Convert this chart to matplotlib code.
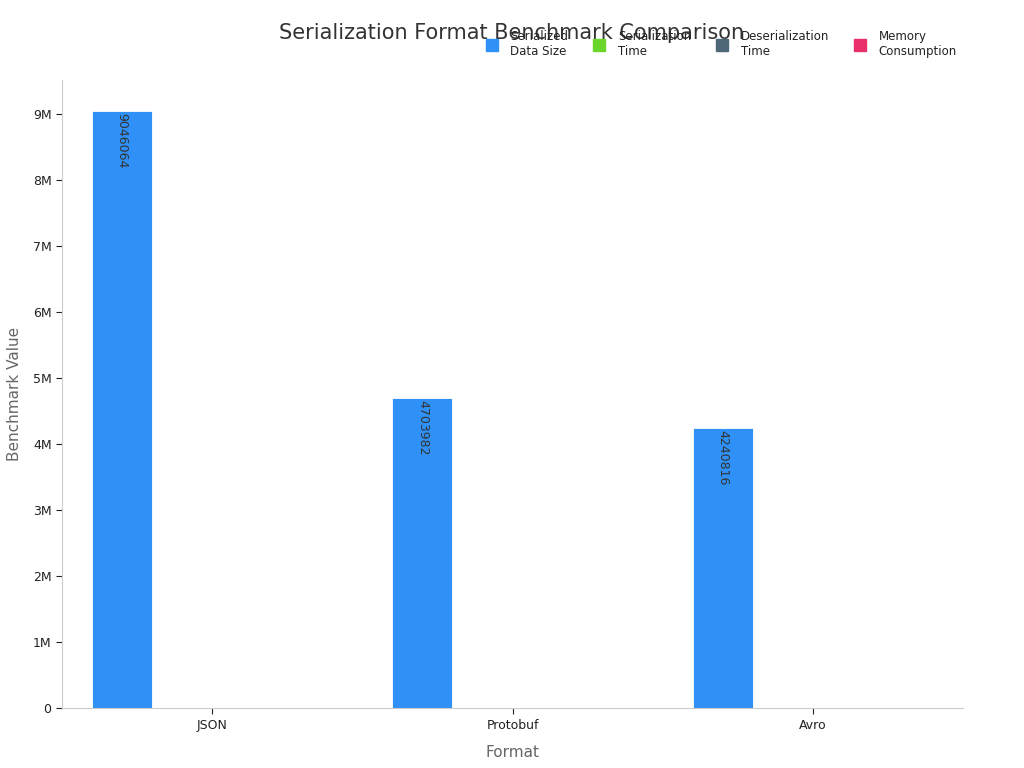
import numpy as np
import matplotlib
matplotlib.use('Agg')
import matplotlib.pyplot as plt
from matplotlib.lines import Line2D

# ── data ──────────────────────────────────────────────────────────────
formats = ['JSON', 'Protobuf', 'Avro']
series_names = ['Serialized\nData Size', 'Serialization\nTime',
                'Deserialization\nTime', 'Memory\nConsumption']
data_size = [9046064, 4703982, 4240816]
ser_time = [120, 45, 60]
deser_time = [150, 40, 55]
memory = [2100, 900, 850]
colors = ['#2f91f7', '#6bd62a', '#4e6877', '#e9306b']

series = [data_size, ser_time, deser_time, memory]

fig = plt.figure(figsize=(10.24, 7.68), dpi=100)
ax = fig.add_axes([0.0605, 0.078, 0.88, 0.818])

x = np.arange(len(formats))
w = 0.2
for i, (vals, c) in enumerate(zip(series, colors)):
    bars = ax.bar(x + (i - 1.5) * w, vals, w, color=c, edgecolor='white', lw=0.6)
    if i == 0:
        for b, v in zip(bars, vals):
            ax.text(b.get_x() + b.get_width() / 2, v - 0.03e6, str(v),
                    rotation=270, ha='center', va='top', fontsize=9, color='#333')

ax.set_xlim(-0.5, 2.5)
ax.set_ylim(0, 9.52e6)
ax.set_xticks(x)
ax.set_xticklabels(formats, fontsize=9)
yt = np.arange(0, 10) * 1e6
ax.set_yticks(yt)
ax.set_yticklabels(['0'] + [f'{int(v/1e6)}M' for v in yt[1:]], fontsize=9)
ax.tick_params(colors='#222', length=4)
for s in ['top', 'right']:
    ax.spines[s].set_visible(False)
for s in ['left', 'bottom']:
    ax.spines[s].set_color('#ccc')
ax.set_xlabel('Format', fontsize=11, color='#666', labelpad=10)
ax.set_ylabel('Benchmark Value', fontsize=11, color='#666', labelpad=8)

fig.text(0.5, 0.957, 'Serialization Format Benchmark Comparison',
         ha='center', va='center', fontsize=15, color='#333')

handles = [Line2D([], [], marker='s', ls='', color=c, markersize=8) for c in colors]
fig.legend(handles, series_names, loc='upper right', bbox_to_anchor=(0.945, 0.975),
           ncol=4, frameon=False, fontsize=8.5, handletextpad=0.6, columnspacing=1.6,
           labelcolor='#222')

fig.savefig('out.png', dpi=100)
